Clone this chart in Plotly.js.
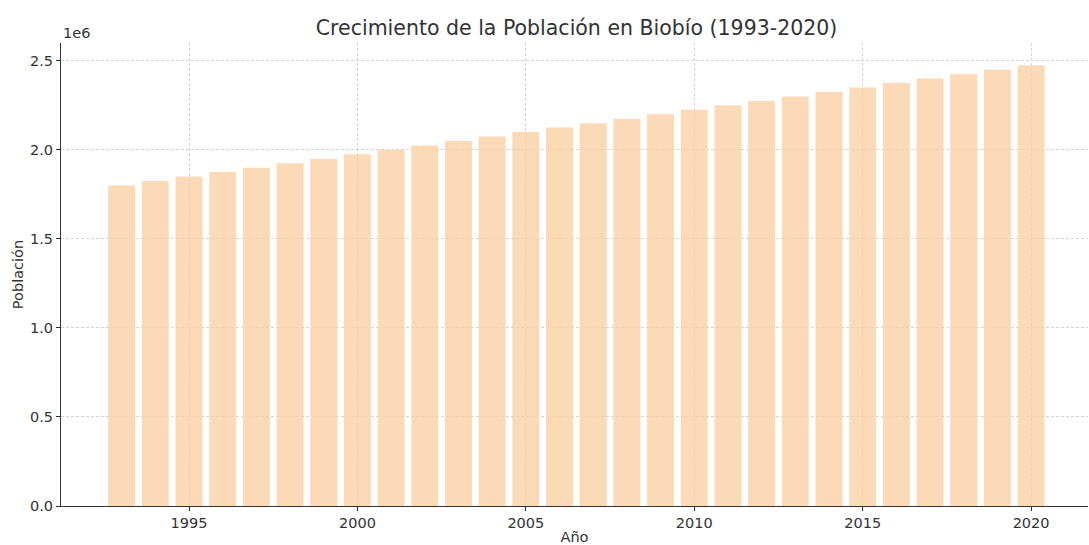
<!DOCTYPE html>
<html>
<head>
<meta charset="utf-8">
<script src="https://cdn.plot.ly/plotly-3.0.1.min.js"></script>
<style>html,body{margin:0;padding:0;background:#fff;}#chart{width:1089px;height:545px;}</style>
</head>
<body>
<div id="chart"></div>
<script>
const years = [1993,1994,1995,1996,1997,1998,1999,2000,2001,2002,2003,2004,2005,2006,2007,2008,2009,2010,2011,2012,2013,2014,2015,2016,2017,2018,2019,2020];
const population = [1800000,1825000,1850000,1875000,1900000,1925000,1950000,1975000,2000000,2025000,2050000,2075000,2100000,2125000,2150000,2175000,2200000,2225000,2250000,2275000,2300000,2325000,2350000,2375000,2400000,2425000,2450000,2475000];
const yTickVals = [0,500000,1000000,1500000,2000000,2500000];
const yTickText = ['0.0','0.5','1.0','1.5','2.0','2.5'];
const xTickVals = [1995,2000,2005,2010,2015,2020];

const font = 'DejaVu Sans, sans-serif';
Plotly.newPlot('chart', [{
  type: 'bar',
  x: years,
  y: population,
  width: 0.8,
  marker: {color: 'rgba(251,207,165,0.8)', line: {width: 0}},
  hoverinfo: 'x+y'
}], {
  width: 1089, height: 545,
  margin: {l: 61, r: 1, t: 43, b: 39},
  paper_bgcolor: '#fff', plot_bgcolor: '#fff',
  showlegend: false,
  title: {text: 'Crecimiento de la Población en Biobío (1993-2020)', font: {family: font, size: 20.5, color: '#333'}, x: 0.502, xanchor: 'center', xref: 'paper', yref: 'container', y: 0.949, yanchor: 'middle'},
  xaxis: {
    range: [1991.2, 2021.69],
    tickvals: xTickVals,
    ticks: 'outside', ticklen: 4, tickcolor: '#333',
    tickfont: {family: font, size: 14.5, color: '#333'},
    showgrid: true, gridcolor: '#d4d4d4', griddash: '3px,2px', gridwidth: 1,
    showline: true, linecolor: '#333', linewidth: 1,
    zeroline: false,
    title: {text: 'Año', font: {family: font, size: 14.5, color: '#333'}, standoff: 4}
  },
  yaxis: {
    range: [0, 2600000],
    tickvals: yTickVals, ticktext: yTickText,
    ticks: 'outside', ticklen: 4, tickcolor: '#333',
    tickfont: {family: font, size: 14.5, color: '#333'},
    showgrid: true, gridcolor: '#d4d4d4', griddash: '3px,2px', gridwidth: 1,
    showline: true, linecolor: '#333', linewidth: 1,
    zeroline: false,
    title: {text: 'Población', font: {family: font, size: 14.5, color: '#333'}, standoff: 2}
  },
  annotations: [{
    text: '1e6', xref: 'paper', yref: 'paper', x: 0, y: 1, xanchor: 'left', yanchor: 'bottom',
    showarrow: false, font: {family: font, size: 14.5, color: '#333'}, yshift: 0
  }]
}, {displayModeBar: false});
</script>
</body>
</html>
